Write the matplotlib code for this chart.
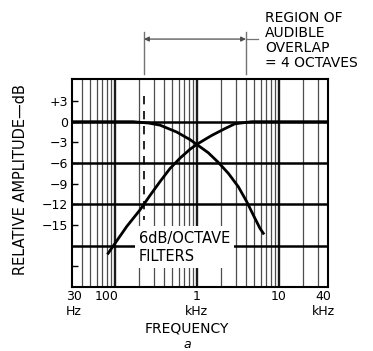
import numpy as np
import matplotlib
matplotlib.use('Agg')
import matplotlib.pyplot as plt
import matplotlib.transforms as mtransforms

# high-pass (rising) and low-pass (falling) responses, Hz / dB
hp_freq = [83, 100, 140, 203, 269, 356, 471, 624, 827, 1000, 1250, 1520, 2210, 2930, 4690, 40000]
hp_db = [-19.1, -17.7, -15.2, -12.8, -10.7, -8.7, -6.8, -5.3, -4.0, -3.3, -2.6, -2.0, -1.0, -0.3, 0.0, 0.0]

lp_freq = [30, 167, 260, 356, 569, 827, 1000, 1380, 1830, 2430, 3220, 4070, 4900, 5920, 6490]
lp_db = [0.0, 0.0, -0.2, -0.5, -1.5, -2.6, -3.3, -4.5, -5.9, -7.5, -9.45, -11.6, -13.55, -15.5, -16.2]

# overlap region edges (Hz)
overlap_lo = 227
overlap_hi = 3990

ytick_vals = [3, 0, -3, -6, -9, -12, -15, -21]
ytick_labels = ['+3', '0', '\u22123', '\u22126', '\u22129', '\u221212', '\u221215', '']
xtick_vals = [30, 100, 1000, 10000, 40000]
xtick_labels = ['30\nHz', '100', '1\nkHz', '10', '40\nkHz']
heavy_db = [0, -6, -12, -18]

fig = plt.figure(figsize=(3.73, 3.51), dpi=100)
ax = fig.add_axes([72 / 373, 64 / 351, 256 / 373, 208 / 351])
ax.set_xscale('log')
ax.set_xlim(30, 40000)
ax.set_ylim(-24, 6.2)

# log paper: heavy decade lines, light lines in between
for n in range(1, 5):
    for k in range(1, 10):
        f = k * 10 ** n
        if 30 < f < 40000:
            ax.axvline(f, color='0.1' if k == 1 else '0.3',
                       lw=1.7 if k == 1 else 0.9, zorder=1)
for d in heavy_db:
    ax.axhline(d, color='black', lw=1.8, zorder=1)

ax.plot(hp_freq, hp_db, color='black', lw=2.0, zorder=3)
ax.plot(lp_freq, lp_db, color='black', lw=2.0, zorder=3)

# dashed marker at lower edge of overlap
ax.plot([overlap_lo, overlap_lo], [3.8, -14.3], color='black', lw=1.2,
        dashes=(5, 4), zorder=3)

# bracket above the plot
trans = mtransforms.blended_transform_factory(ax.transData, ax.transAxes)
for f in (overlap_lo, overlap_hi):
    ax.plot([f, f], [1.024, 1.226], color='0.45', lw=1.0, transform=trans,
            clip_on=False)
ax.annotate('', xy=(overlap_lo, 1.192), xytext=(overlap_hi, 1.192),
            xycoords=trans, textcoords=trans,
            arrowprops=dict(arrowstyle='<|-|>', color='0.3', lw=0.9,
                            mutation_scale=7, shrinkA=0, shrinkB=0))
ax.plot([overlap_hi, 5600], [1.192, 1.192], color='0.45', lw=0.9,
        transform=trans, clip_on=False)

fig.text(265 / 373, 1 - 11 / 351, 'REGION OF\nAUDIBLE\nOVERLAP\n= 4 OCTAVES',
         ha='left', va='top', fontsize=10, linespacing=1.1)

ax.text(197, -15.8, '6dB/OCTAVE\nFILTERS', ha='left', va='top', fontsize=10.5,
        linespacing=1.3, zorder=2,
        bbox=dict(facecolor='white', edgecolor='none', pad=3))

ax.set_yticks(ytick_vals)
ax.set_yticklabels(ytick_labels)
ax.tick_params(axis='y', direction='in', length=4, width=1, pad=3, labelsize=9)
ax.set_xticks(xtick_vals)
ax.set_xticklabels(xtick_labels)
ax.xaxis.set_minor_locator(matplotlib.ticker.NullLocator())
ax.tick_params(axis='x', length=0, pad=2, labelsize=9)

# nudge a few frequency labels
shifts = {'100': -8, '40\nkHz': -5, '30\nHz': 2}
for lab in ax.get_xticklabels():
    dx = shifts.get(lab.get_text(), 0)
    if dx:
        lab.set_transform(lab.get_transform() +
                          mtransforms.ScaledTranslation(dx / 100, 0, fig.dpi_scale_trans))

for s in ax.spines.values():
    s.set_linewidth(1.5)

ax.set_ylabel('RELATIVE AMPLITUDE\u2014dB', fontsize=10.5)
ax.yaxis.set_label_coords(-0.17, 0.515)
ax.set_xlabel('FREQUENCY', fontsize=10)
ax.xaxis.set_label_coords(0.45, -0.165)

fig.text(187 / 373, 1 - 345 / 351, 'a', style='italic', ha='center',
         va='center', fontsize=9)

fig.savefig('out.png', dpi=100)
